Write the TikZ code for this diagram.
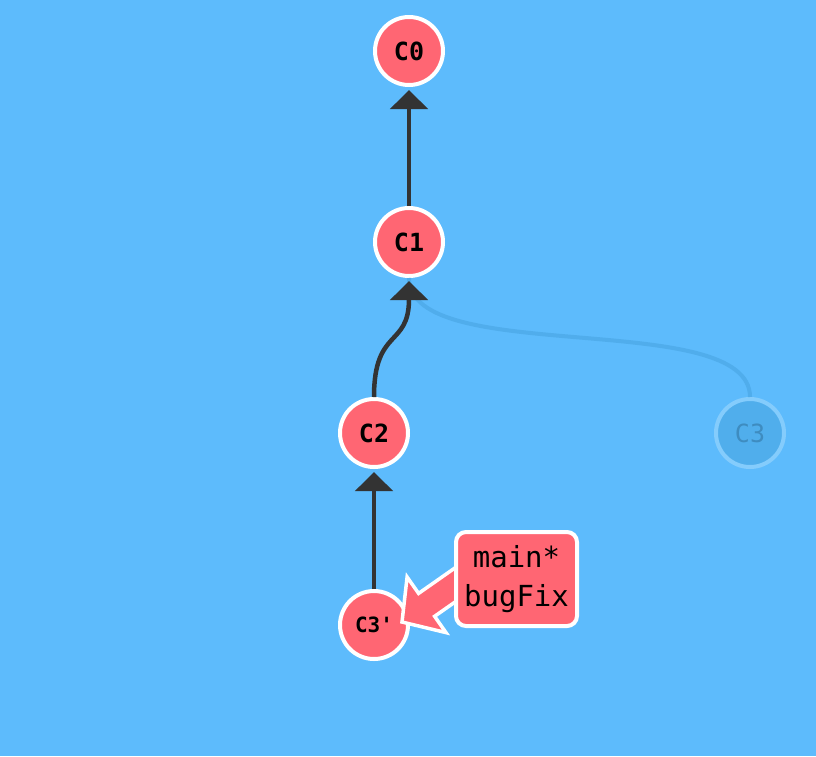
\documentclass[tikz,border=0pt]{standalone}
\usepackage{fontspec}
\setmonofont{DejaVu Sans Mono}
\usepackage{xcolor}
\usepackage{tikz}
\usetikzlibrary{arrows.meta,calc}

\definecolor{bgblue}{RGB}{93,187,252}
\definecolor{commitred}{RGB}{255,102,115}
\definecolor{edgegray}{RGB}{51,51,51}
\definecolor{ghostfill}{RGB}{80,174,236}
\definecolor{ghostline}{RGB}{132,204,252}
\definecolor{ghosttext}{RGB}{62,140,192}
\definecolor{ghostedge}{RGB}{80,173,236}

\tikzset{
    commit/.style={circle, draw=white, line width=4pt, fill=commitred, minimum size=68pt, inner sep=0pt,
        font=\fontsize{25}{25}\selectfont\ttfamily\bfseries},
    ghost/.style={commit, draw=ghostline, fill=ghostfill, text=ghosttext,
        font=\fontsize{25}{25}\selectfont\ttfamily},
    parent/.style={draw=edgegray, line width=4.5pt, -{Triangle[width=37pt,length=19pt]}, shorten >=3pt},
    ghostparent/.style={draw=ghostedge, line width=4pt},
    branch/.style={rectangle, draw=white, line width=4pt, fill=commitred, rounded corners=10pt,
        minimum width=121pt, minimum height=94pt, align=center,
        font=\fontsize{29}{39}\selectfont\ttfamily},
    pointer/.style={fill=commitred, draw=white, line width=3.5pt, line join=miter}
}

\begin{document}
\begin{tikzpicture}[x=1pt, y=-1pt]
    % Background
    \fill[bgblue] (0,0) rectangle (816,756);

    % Commits
    \node[commit] (c0) at (409,51) {C0};
    \node[commit] (c1) at (409,242) {C1};
    \node[commit] (c2) at (374,433) {C2};
    \node[ghost] (c3) at (750,433) {C3};
    \node[commit, font=\fontsize{21}{21}\selectfont\ttfamily\bfseries] (c3p) at (374,625) {C3'};

    % Parent links
    \draw[ghostparent] (c3.north) .. controls +(0,-90) and +(0,90) .. (c1.south);
    \draw[parent] (c1) -- (c0);
    \draw[parent] (c2.north) .. controls +(0,-70) and +(0,70) .. (c1.south);
    \draw[parent] (c3p) -- (c2);

    % Branch label
    \coordinate (tip) at ($(c3p)+(28,-3)$);
    \draw[pointer] (tip) -- +(44.0,10.6) -- +(32.6,-5.7) -- +(81.8,-40.1)
        -- +(65.8,-63.1) -- +(16.6,-28.6) -- +(5.1,-45.0) -- cycle;
    \node[branch] (lbl) at (516.5,579) {main*\\bugFix};
\end{tikzpicture}
\end{document}
